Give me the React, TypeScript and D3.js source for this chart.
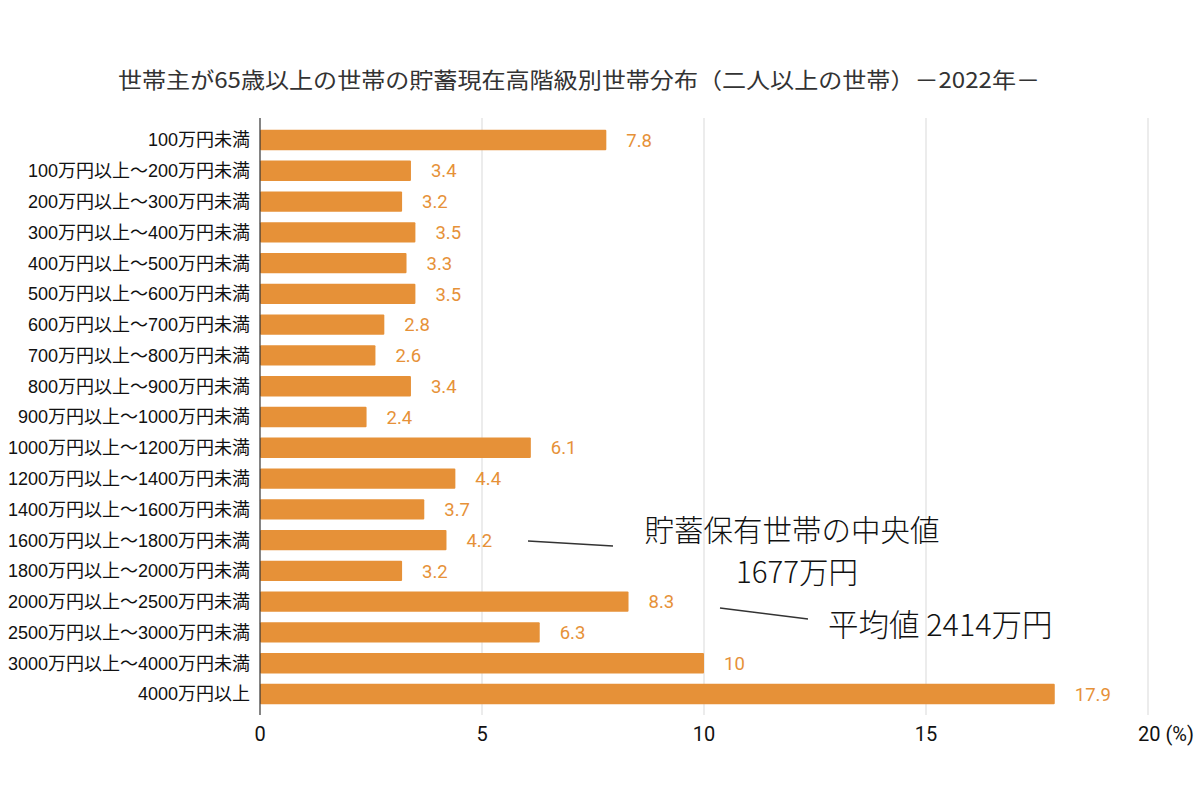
import React from "react";
import * as d3 from "d3";

const categories = [
  "100万円未満",
  "100万円以上〜200万円未満",
  "200万円以上〜300万円未満",
  "300万円以上〜400万円未満",
  "400万円以上〜500万円未満",
  "500万円以上〜600万円未満",
  "600万円以上〜700万円未満",
  "700万円以上〜800万円未満",
  "800万円以上〜900万円未満",
  "900万円以上〜1000万円未満",
  "1000万円以上〜1200万円未満",
  "1200万円以上〜1400万円未満",
  "1400万円以上〜1600万円未満",
  "1600万円以上〜1800万円未満",
  "1800万円以上〜2000万円未満",
  "2000万円以上〜2500万円未満",
  "2500万円以上〜3000万円未満",
  "3000万円以上〜4000万円未満",
  "4000万円以上",
];
const values = [7.8, 3.4, 3.2, 3.5, 3.3, 3.5, 2.8, 2.6, 3.4, 2.4, 6.1, 4.4, 3.7, 4.2, 3.2, 8.3, 6.3, 10, 17.9];
const xTicks = [0, 5, 10, 15, 20];
const title = "世帯主が65歳以上の世帯の貯蓄現在高階級別世帯分布（二人以上の世帯）－2022年－";

const ORANGE = "#E69138";
const FONT = "Roboto, 'Noto Sans CJK JP', sans-serif";
const LAB = "'Liberation Sans', 'Noto Sans CJK JP', sans-serif";
const JP = "'Noto Sans CJK JP', 'Noto Sans', sans-serif";

export default function App() {
  const x = d3.scaleLinear().domain([0, 20]).range([260, 1148]);
  const y = d3.scaleBand<string>().domain(categories).range([124.6, 709.4]).paddingInner(0.34).paddingOuter(0.17);
  const top = 118;
  const bottom = 715;
  return (
    <svg width={1200} height={800} style={{ position: "absolute", left: 0, top: 0, background: "#fff" }}>
      <rect x={0} y={0} width={1200} height={800} fill="#fff" />
      <text x={118} y={88} fontFamily={JP} fontSize={22} fill="#333" textLength={922} lengthAdjust="spacingAndGlyphs">
        {title}
      </text>
      {xTicks.slice(1).map((t) => (
        <line key={t} x1={x(t)} x2={x(t)} y1={top} y2={bottom} stroke="#d9d9d9" strokeWidth={1} />
      ))}
      {categories.map((c, i) => (
        <g key={c}>
          <rect x={x(0)} y={y(c)!} width={x(values[i]) - x(0)} height={y.bandwidth()} fill={ORANGE} rx={1} />
          <text x={x(values[i]) + 20} y={y(c)! + y.bandwidth() / 2} dy="0.36em" fontFamily={FONT} fontSize={18.5} fill={ORANGE}>
            {values[i]}
          </text>
          <text x={250} y={y(c)! + y.bandwidth() / 2} dy="0.36em" textAnchor="end" fontFamily={LAB} fontSize={18} fill="#111">
            {c}
          </text>
        </g>
      ))}
      <line x1={x(0)} x2={x(0)} y1={top} y2={bottom} stroke="#333" strokeWidth={1.2} />
      {xTicks.map((t) => (
        <text key={t} x={x(t)} y={741} textAnchor="middle" fontFamily={FONT} fontSize={20} fill="#111">
          {t === 20 ? "" : t}
        </text>
      ))}
      <text x={1138} y={741} fontFamily={FONT} fontSize={20} fill="#111">20 (%)</text>
      <line x1={528} y1={541} x2={613} y2={546} stroke="#333" strokeWidth={1.5} />
      <line x1={720} y1={608} x2={808} y2={619} stroke="#333" strokeWidth={1.5} />
      <text x={792} y={541} textAnchor="middle" fontFamily={JP} fontWeight={300} fontSize={29.5} fill="#111">貯蓄保有世帯の中央値</text>
      <text x={797} y={583} textAnchor="middle" fontFamily={JP} fontWeight={300} fontSize={29.5} fill="#111">1677万円</text>
      <text x={828} y={636} fontFamily={JP} fontWeight={300} fontSize={30.5} fill="#111">平均値 2414万円</text>
    </svg>
  );
}
